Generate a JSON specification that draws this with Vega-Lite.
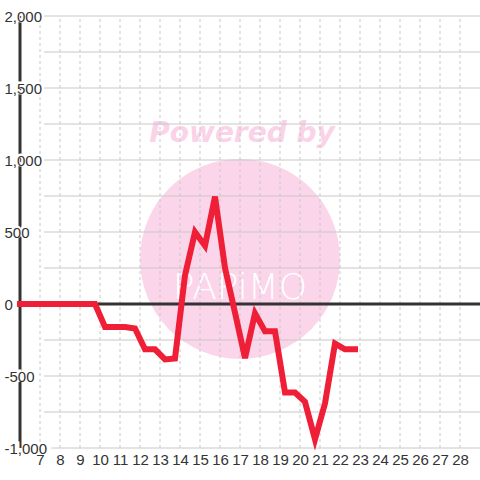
{
  "$schema": "https://vega.github.io/schema/vega-lite/v6.json",
  "width": 460,
  "height": 432,
  "autosize": {"type": "none"},
  "padding": {"left": 20, "top": 16, "right": 0, "bottom": 32},
  "background": "white",
  "config": {"view": {"stroke": null}},
  "resolve": {"axis": {"x": "independent", "y": "independent"}},
  "datasets": {
    "series": [
      {"x": 6, "y": 0}, {"x": 6.25, "y": 0}, {"x": 6.75, "y": 0}, {"x": 7.25, "y": 0}, {"x": 7.75, "y": 0},
      {"x": 8.25, "y": 0}, {"x": 8.75, "y": 0}, {"x": 9.25, "y": 0}, {"x": 9.75, "y": 0},
      {"x": 10.25, "y": -160}, {"x": 10.75, "y": -160}, {"x": 11.25, "y": -160}, {"x": 11.75, "y": -170},
      {"x": 12.25, "y": -315}, {"x": 12.75, "y": -315}, {"x": 13.25, "y": -385}, {"x": 13.75, "y": -378},
      {"x": 14.25, "y": 200}, {"x": 14.75, "y": 500}, {"x": 15.25, "y": 405}, {"x": 15.75, "y": 745},
      {"x": 16.25, "y": 250}, {"x": 16.75, "y": -60}, {"x": 17.25, "y": -375}, {"x": 17.75, "y": -65},
      {"x": 18.25, "y": -190}, {"x": 18.75, "y": -190}, {"x": 19.25, "y": -615}, {"x": 19.75, "y": -615},
      {"x": 20.25, "y": -680}, {"x": 20.75, "y": -940}, {"x": 21.25, "y": -690}, {"x": 21.75, "y": -275},
      {"x": 22.25, "y": -315}, {"x": 22.75, "y": -315}
    ],
    "hgrid": [
      {"v": -1000}, {"v": -750}, {"v": -500}, {"v": -250}, {"v": 250}, {"v": 500}, {"v": 750},
      {"v": 1000}, {"v": 1250}, {"v": 1500}, {"v": 1750}, {"v": 2000}
    ],
    "vgrid": [
      {"d": 7}, {"d": 8}, {"d": 9}, {"d": 10}, {"d": 11}, {"d": 12}, {"d": 13}, {"d": 14}, {"d": 15}, {"d": 16}, {"d": 17},
      {"d": 18}, {"d": 19}, {"d": 20}, {"d": 21}, {"d": 22}, {"d": 23}, {"d": 24}, {"d": 25}, {"d": 26}, {"d": 27}, {"d": 28}
    ],
    "ylabels": [
      {"v": -1000}, {"v": -500}, {"v": 0}, {"v": 500}, {"v": 1000}, {"v": 1500}, {"v": 2000}
    ],
    "one": [{"k": 1}]
  },
  "layer": [
    {
      "data": {"name": "one"},
      "mark": {"type": "point", "shape": "circle", "filled": true, "size": 40000, "color": "#fbd5ea", "opacity": 1},
      "encoding": {
        "x": {"datum": 17, "type": "quantitative", "axis": null},
        "y": {"datum": 313, "type": "quantitative", "axis": null}
      }
    },
    {
      "data": {"name": "one"},
      "mark": {"type": "text", "text": "Powered by", "font": "DejaVu Sans", "fontSize": 28, "fontWeight": "bold", "fontStyle": "italic", "color": "#fad3e8", "align": "center", "baseline": "middle"},
      "encoding": {
        "x": {"datum": 17.1, "type": "quantitative", "axis": null},
        "y": {"datum": 1180, "type": "quantitative", "axis": null}
      }
    },
    {
      "data": {"name": "one"},
      "mark": {"type": "text", "text": "PAPiMO", "font": "DejaVu Sans", "fontSize": 36, "fontWeight": 200, "color": "white", "align": "center", "baseline": "middle"},
      "encoding": {
        "x": {"datum": 17, "type": "quantitative", "axis": null},
        "y": {"datum": 108, "type": "quantitative", "axis": null}
      }
    },
    {
      "data": {"name": "vgrid"},
      "mark": {"type": "rule", "color": "#c8c8c8", "strokeWidth": 1, "strokeDash": [3, 3]},
      "encoding": {
        "x": {"field": "d", "type": "quantitative", "axis": null},
        "y": {"datum": -1000, "type": "quantitative", "axis": null},
        "y2": {"datum": 2000}
      }
    },
    {
      "data": {"name": "hgrid"},
      "mark": {"type": "rule", "color": "#c8c8c8", "strokeWidth": 1},
      "encoding": {
        "y": {"field": "v", "type": "quantitative", "axis": null},
        "x": {"datum": 7.2, "type": "quantitative", "axis": null},
        "x2": {"datum": 29}
      }
    },
    {
      "data": {"name": "one"},
      "mark": {"type": "rule", "color": "#333333", "strokeWidth": 3},
      "encoding": {
        "y": {"datum": 0, "type": "quantitative", "axis": null},
        "x": {"datum": 6, "type": "quantitative", "axis": null},
        "x2": {"datum": 29}
      }
    },
    {
      "data": {"name": "one"},
      "mark": {"type": "rule", "color": "#333333", "strokeWidth": 3},
      "encoding": {
        "x": {"datum": 6, "type": "quantitative", "axis": null},
        "y": {"datum": -1000, "type": "quantitative", "axis": null},
        "y2": {"datum": 2000}
      }
    },
    {
      "data": {"name": "series"},
      "mark": {"type": "line", "color": "#ee1f36", "strokeWidth": 6, "strokeCap": "square"},
      "encoding": {
        "x": {
          "field": "x", "type": "quantitative",
          "scale": {"domain": [6, 29], "nice": false, "zero": false},
          "axis": {
            "values": [7, 8, 9, 10, 11, 12, 13, 14, 15, 16, 17, 18, 19, 20, 21, 22, 23, 24, 25, 26, 27, 28],
            "ticks": false, "domain": false, "grid": false, "title": null,
            "labelFont": "Liberation Sans",
            "labelFontSize": 15, "labelColor": "#333333", "labelPadding": 4,
            "labelOverlap": false, "labelFlush": false
          }
        },
        "y": {
          "field": "y", "type": "quantitative",
          "scale": {"domain": [-1000, 2000], "nice": false, "zero": false},
          "axis": {
            "values": [-1000, -500, 0, 500, 1000, 1500, 2000],
            "ticks": false, "domain": false, "grid": false, "title": null,
            "labelFont": "Liberation Sans", "labelFontSize": 15, "labelColor": "#333333",
            "labelAlign": "left", "labelPadding": 16, "labelBaseline": "middle",
            "labelOverlap": false, "labelFlush": false, "zindex": 2,
            "labelExpr": "replace(format(datum.value, ','), '\u2212', '-')"
          }
        }
      }
    },
    {
      "data": {"name": "ylabels"},
      "mark": {"type": "text", "font": "Liberation Sans", "fontSize": 15, "color": "white", "stroke": "white", "strokeWidth": 3, "align": "left", "baseline": "middle", "dx": -16},
      "encoding": {
        "x": {"datum": 6, "type": "quantitative", "axis": null},
        "y": {"field": "v", "type": "quantitative", "axis": null},
        "text": {"field": "v", "type": "quantitative", "format": ","}
      }
    }
  ]
}
